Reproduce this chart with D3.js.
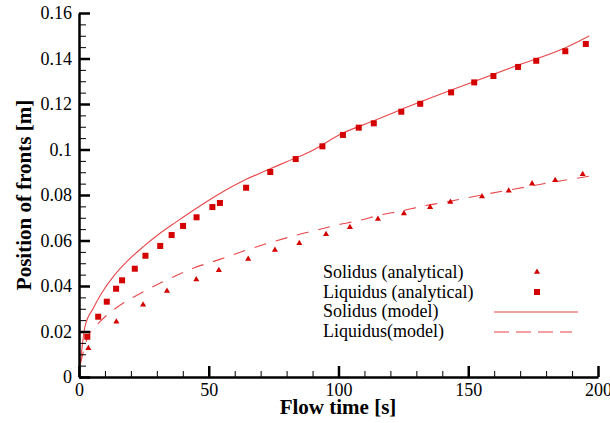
<!DOCTYPE html>
<html><head><meta charset="utf-8">
<script src="https://cdn.jsdelivr.net/npm/d3@7"></script>
<style>body{margin:0;background:#fff}svg{display:block}</style>
</head><body>
<svg id="c" width="610" height="423"></svg>
<script>
// Data
const liqAnaT = [3.2,7.4,10.7,14.3,16.6,21.5,25.6,31.3,35.7,40.1,45.3,51.4,54.3,64.4,73.7,83.5,93.8,101.7,107.8,113.6,124.2,131.5,143.4,152.3,159.7,169.2,176.2,187.4,195.3];
const liqAnaV = [0.0177,0.0265,0.0331,0.0388,0.0425,0.0476,0.0533,0.0576,0.0624,0.0664,0.0702,0.0747,0.0765,0.0832,0.0901,0.0958,0.1014,0.1064,0.1096,0.1115,0.1166,0.1201,0.1251,0.1295,0.1323,0.1363,0.1390,0.1432,0.1464];
const solAnaT = [3.6,14.4,24.7,33.9,45.2,53.9,65.2,75.5,84.9,95.2,104.4,115.2,125.2,135.3,143.1,155.3,165.6,174.6,183.5,194.1];
const solAnaV = [0.0126,0.0243,0.0318,0.0378,0.0429,0.0469,0.0519,0.0558,0.0588,0.0627,0.0658,0.0695,0.0719,0.0746,0.0769,0.0793,0.0819,0.0850,0.0865,0.0891];
const solModT = [0.4,2.3,5.5,8.7,13.2,18.4,24.8,31.2,37.6,46.6,54.3,63.3,71,80,89,101.7,113.6,124,143,169,187,196.6];
const solModV = [0.0045,0.0221,0.0302,0.0368,0.0441,0.0507,0.0573,0.0632,0.0683,0.0752,0.0807,0.0863,0.0902,0.0946,0.0990,0.1072,0.1126,0.1175,0.1259,0.1370,0.1445,0.1499];
const liqModT = [0.6,3,8.1,13.2,24.8,33.8,44,54.3,64.6,74.9,83.9,91,99.3,107.6,116,124.4,132.7,141,149.4,158.4,167.4,176.4,184.1,193.1,199.2];
const liqModV = [0.006,0.0163,0.0243,0.0294,0.0375,0.0426,0.0478,0.0517,0.0558,0.0595,0.0624,0.0644,0.0668,0.0687,0.0712,0.073,0.0752,0.0768,0.0787,0.0807,0.0825,0.0844,0.086,0.0876,0.0888];
const xTicks = [0,50,100,150,200];
const xTickLabels = ["0","50","100","150","200"];
const yTicks = [0,0.02,0.04,0.06,0.08,0.1,0.12,0.14,0.16];
const yTickLabels = ["0","0.02","0.04","0.06","0.08","0.1","0.12","0.14","0.16"];
const legendLabels = ["Solidus (analytical)","Liquidus (analytical)","Solidus (model)","Liquidus(model)"];

const svg = d3.select("#c");
const x = d3.scaleLinear().domain([0,200]).range([79,598]);
const y = d3.scaleLinear().domain([0,0.16]).range([377,13]);
const red = "#d40000", lineC = "#e8474a";
const serif = "Liberation Serif, Times New Roman, serif";

// model lines
const line = d3.line().x(d=>x(d[0])).y(d=>y(d[1])).curve(d3.curveMonotoneX);
svg.append("path").datum(d3.zip(solModT,solModV)).attr("d",line)
  .attr("fill","none").attr("stroke",lineC).attr("stroke-width",1.1);
svg.append("path").datum(d3.zip(liqModT,liqModV)).attr("d",line)
  .attr("fill","none").attr("stroke",lineC).attr("stroke-width",1.1).attr("stroke-dasharray","12,10");

// markers
const sq = 6;
svg.append("g").selectAll("rect").data(d3.zip(liqAnaT,liqAnaV)).join("rect")
  .attr("x",d=>x(d[0])-sq/2).attr("y",d=>y(d[1])-sq/2).attr("width",sq).attr("height",sq).attr("fill",red);
const tri = d3.symbol().type(d3.symbolTriangle).size(16);
svg.append("g").selectAll("path").data(d3.zip(solAnaT,solAnaV)).join("path")
  .attr("transform",d=>`translate(${x(d[0])},${y(d[1])})`).attr("d",tri).attr("fill",red);

// axes
function styleAxis(g){
  g.attr("font-family",serif).attr("font-size",18);
  g.select(".domain").attr("stroke","#000").attr("stroke-width",2.5);
  g.selectAll(".tick line").attr("stroke","#000").attr("stroke-width",2.5);
  g.selectAll("text").style("font-family",serif).style("font-size","18px").attr("fill","#000");}
const xMinor = d3.range(0,201,10).filter(v=>v%50!==0);
const yMinor = d3.range(0,33).map(i=>i*0.005).filter((v,i)=>i%4!==0);
svg.append("g").attr("transform","translate(0,377)")
  .call(d3.axisBottom(x).tickValues(xMinor).tickSize(-6).tickFormat(""))
  .call(g=>{g.select(".domain").remove();g.selectAll(".tick line").attr("stroke","#000").attr("stroke-width",1);});
svg.append("g").attr("transform","translate(79,0)")
  .call(d3.axisLeft(y).tickValues(yMinor).tickSize(-7).tickFormat(""))
  .call(g=>{g.select(".domain").remove();g.selectAll(".tick line").attr("stroke","#000").attr("stroke-width",1);});
svg.append("g").attr("transform","translate(0,377)")
  .call(d3.axisBottom(x).tickValues(xTicks).tickSizeInner(-11).tickSizeOuter(0).tickPadding(6).tickFormat((d,i)=>xTickLabels[i]))
  .call(styleAxis);
svg.append("g").attr("transform","translate(79,0)")
  .call(d3.axisLeft(y).tickValues(yTicks).tickSizeInner(-11).tickSizeOuter(0).tickPadding(7).tickFormat((d,i)=>yTickLabels[i]))
  .call(styleAxis);

// titles
svg.append("text").attr("x",338).attr("y",414).attr("text-anchor","middle")
  .style("font-family",serif).attr("font-weight","bold").attr("font-size",21).text("Flow time [s]");
svg.append("text").attr("transform","translate(31,195) rotate(-90)").attr("text-anchor","middle")
  .style("font-family",serif).attr("font-weight","bold").attr("font-size",21).text("Position of fronts [m]");

// legend
const lg = svg.append("g");
const rowY = [278,297.5,317,336.5];
lg.selectAll("text").data(legendLabels).join("text")
  .attr("x",323).attr("y",(d,i)=>rowY[i]).style("font-family",serif).attr("font-size",18).attr("fill","#000").text(d=>d);
lg.append("path").attr("transform",`translate(537,${rowY[0]-6})`).attr("d",tri).attr("fill",red);
lg.append("rect").attr("x",537-sq/2).attr("y",rowY[1]-5.5-sq/2).attr("width",sq).attr("height",sq).attr("fill",red);
lg.append("line").attr("x1",494).attr("x2",578).attr("y1",rowY[2]-5).attr("y2",rowY[2]-5).attr("stroke",lineC).attr("stroke-width",1.1);
lg.append("line").attr("x1",494).attr("x2",572).attr("y1",rowY[3]-4.5).attr("y2",rowY[3]-4.5).attr("stroke",lineC).attr("stroke-width",1.1).attr("stroke-dasharray","15,7");
</script>
</body></html>
